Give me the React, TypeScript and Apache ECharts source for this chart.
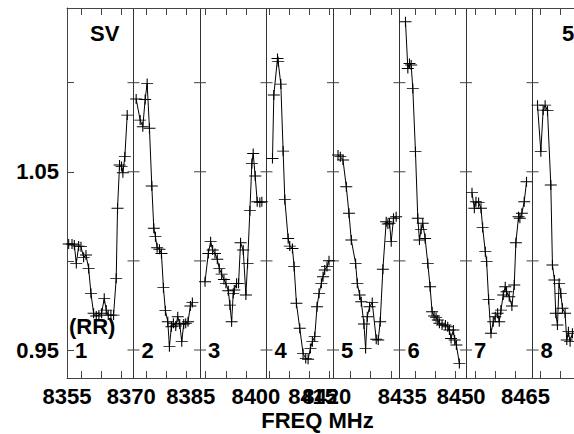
import React, { useEffect, useRef } from "react";
import * as echarts from "echarts";

// Each panel: [frequency offset from panel start (MHz), relative value]
const panelStarts = [8355, 8370, 8385, 8400, 8415, 8430, 8445, 8460];
const panelNames = ["1", "2", "3", "4", "5", "6", "7", "8"];

const panel1: [number, number][] = [
  [0.38, 1.0095], [1.13, 1.0095], [1.65, 1.0089], [2.1, 0.9986], [2.63, 1.0083], [3.15, 1.008],
  [3.75, 1.002], [4.28, 1.0033], [4.88, 0.9958], [5.4, 0.9818], [6.0, 0.9706], [6.6, 0.9691],
  [7.2, 0.9696], [7.8, 0.9706], [8.4, 0.979], [8.85, 0.9724], [9.3, 0.9696], [9.9, 0.9696],
  [10.5, 0.9696], [11.1, 0.9902], [11.4, 1.0295], [11.85, 1.0538], [12.3, 1.0529], [12.6, 1.0495],
  [13.05, 1.0585], [13.58, 1.0818],
];
const panel2: [number, number][] = [
  [0.6, 1.0908], [1.5, 1.079], [2.1, 1.0753], [2.63, 1.0906], [3.08, 1.0996], [3.6, 1.0744],
  [4.13, 1.042], [4.58, 1.0183], [4.95, 1.0136], [5.33, 1.0074], [5.85, 1.0065], [6.3, 1.0042],
  [6.75, 0.985], [7.2, 0.9721], [7.73, 0.9659], [8.1, 0.9519], [8.55, 0.9631], [9.0, 0.965],
  [9.53, 0.9635], [9.98, 0.9687], [10.43, 0.9646], [10.88, 0.9547], [11.33, 0.9646], [11.78, 0.965],
  [12.3, 0.9659], [12.83, 0.9747], [13.28, 0.9766],
];
const panel3: [number, number][] = [
  [1.13, 0.9883], [1.88, 1.0042], [2.4, 1.0108], [2.85, 1.0061], [3.38, 1.0042], [3.9, 1.0009],
  [4.35, 0.9958], [4.88, 0.9926], [5.4, 0.9896], [5.85, 0.9874], [6.38, 0.9833], [6.75, 0.9752],
  [7.13, 0.9659], [7.5, 0.9818], [7.73, 0.9837], [8.25, 0.9874], [8.7, 0.9874], [9.15, 1.0102],
  [9.75, 1.0061], [10.35, 0.9809], [10.73, 0.9986], [11.25, 1.0282], [11.7, 1.0547], [12.0, 1.0603],
  [12.45, 1.0476], [12.9, 1.0332], [13.5, 1.0327], [13.95, 1.0332],
];
const panel4: [number, number][] = [
  [1.35, 1.0575], [1.65, 1.0931], [2.48, 1.1136], [2.63, 1.1118], [3.23, 1.0992], [3.75, 1.0616],
  [4.13, 1.0345], [4.88, 1.0126], [5.25, 1.0083], [5.85, 1.007], [6.23, 0.9968], [6.75, 0.9762],
  [7.5, 0.9622], [8.25, 0.9481], [8.85, 0.9453], [9.38, 0.9448], [9.9, 0.9509], [10.35, 0.9547],
  [10.88, 0.9575], [11.4, 0.9743], [11.85, 0.9818], [12.38, 0.9874], [12.75, 0.9911], [13.13, 0.9949],
  [13.65, 0.9968], [14.1, 1.0001],
];
const panel5: [number, number][] = [
  [1.13, 1.0594], [1.65, 1.0585], [2.25, 1.0566], [3.0, 1.0416], [3.6, 1.0267], [4.13, 1.0117],
  [5.1, 0.9986], [5.48, 0.9874], [6.0, 0.9809], [6.38, 0.9771], [6.98, 0.9646], [7.35, 0.9509],
  [7.73, 0.9687], [8.25, 0.9743], [8.85, 0.9766], [9.75, 0.956], [10.2, 0.9556], [10.65, 0.9659],
  [11.25, 0.9953], [12.0, 1.022], [12.38, 1.0207], [12.75, 1.0211], [13.13, 1.0108], [13.65, 1.0239],
  [14.25, 1.0248],
];
const panel6: [number, number][] = [
  [1.35, 1.1342], [1.88, 1.108], [2.25, 1.1108], [2.63, 1.1099], [3.0, 1.0968], [3.6, 1.0613],
  [4.13, 1.0239], [4.5, 1.0117], [4.88, 1.0177], [5.25, 1.0211], [5.78, 1.0126], [6.38, 0.9986],
  [6.9, 0.9855], [7.35, 0.9715], [7.8, 0.9691], [8.25, 0.9683], [8.63, 0.9668], [9.0, 0.965],
  [9.6, 0.964], [10.35, 0.964], [10.88, 0.9631], [11.25, 0.9612], [11.63, 0.9565], [12.15, 0.9612],
  [12.45, 0.9556], [12.83, 0.9528], [13.5, 0.9425],
];
const panel7: [number, number][] = [
  [1.35, 1.0383], [1.88, 1.0295], [2.25, 1.0332], [2.85, 1.0327], [3.38, 1.0295], [3.75, 1.0188],
  [4.35, 1.0052], [4.65, 0.9996], [5.1, 0.9784], [5.63, 0.9594], [6.15, 0.9659], [6.6, 0.9687],
  [7.13, 0.9706], [7.5, 0.9659], [7.88, 0.9724], [8.4, 0.9809], [8.85, 0.9855], [9.15, 0.9827],
  [9.75, 0.9799], [10.35, 0.9747], [10.88, 0.9865], [11.25, 1.0102], [11.85, 1.0248], [12.15, 1.0239],
  [12.6, 1.0267], [13.13, 1.0332], [13.65, 1.0444],
];
const panel8: [number, number][] = [
  [1.13, 1.0874], [1.88, 1.0613], [2.4, 1.0846], [2.85, 1.0874], [3.38, 1.0843], [4.13, 1.0426],
  [4.5, 0.9977], [4.95, 0.9893], [5.25, 0.9706], [5.63, 0.964], [6.0, 0.9874], [6.38, 0.9818],
  [6.75, 0.9734], [7.35, 0.9706], [7.73, 0.9556], [8.1, 0.9603], [8.48, 0.9547], [9.0, 0.9594],
];

const xTickLabels = ["8355", "8370", "8385", "8400", "8415", "8420", "8435", "8450", "8465"];
const xTickLabelAt = [8355.0, 8369.5, 8382.9, 8397.6, 8410.4, 8413.6, 8430.6, 8443.9, 8458.4];
const xMinorTicks = [
  8358.15, 8362.66, 8367.16, 8372.79, 8377.3, 8381.8, 8386.2, 8390.81, 8395.32, 8400.72,
  8405.23, 8409.73, 8414.24, 8418.97, 8423.47, 8428.2, 8433.61, 8438.11, 8442.61, 8447.12,
  8451.62, 8456.13, 8461.76, 8466.26,
];
const yTicks = [0.95, 1.0, 1.05, 1.1];
const yLabelValues = [0.95, 1.05];

export default function App() {
  const ref = useRef<HTMLDivElement>(null);

  useEffect(() => {
    if (!ref.current) return;
    const chart = echarts.init(ref.current, null, { renderer: "svg" });
    const font = "'Liberation Sans', Arial, Helvetica, sans-serif";
    const axisColor = "#444";
    const xMin = 8355;
    const xMax = 8469.36;
    const yMin = 0.9343;
    const yMax = 1.1419;
    const panels = [panel1, panel2, panel3, panel4, panel5, panel6, panel7, panel8];
    const cross = "path://M0,5L12,5M6,0L6,10";

    const lineSeries = panels.map((pts, i) => ({
      type: "line",
      xAxisIndex: 0,
      yAxisIndex: 0,
      data: pts.map(([o, v]) => [panelStarts[i] + o, v]),
      symbol: cross,
      symbolSize: [12, 10],
      showSymbol: true,
      lineStyle: { color: "#000", width: 1 },
      itemStyle: { color: "#000", borderColor: "#000", borderWidth: 1 },
      emphasis: { disabled: true },
      silent: true,
      z: 3,
    }));

    const dividerTicks: number[][] = [];
    panelStarts.slice(1).forEach((x) => yTicks.forEach((y) => dividerTicks.push([x, y])));

    const boldText = { fontFamily: font, fontWeight: "bold", fontSize: 22, color: "#000" };

    chart.setOption({
      animation: false,
      backgroundColor: "#fff",
      grid: { left: 67, right: 0, top: 8, bottom: 56, outerBoundsMode: "none", containLabel: false },
      xAxis: [
        {
          type: "value",
          position: "bottom",
          min: xMin,
          max: xMax,
          interval: 15,
          axisLine: { show: true, lineStyle: { color: axisColor, width: 1 } },
          axisTick: { show: false },
          axisLabel: { show: false },
          splitLine: { show: true, showMinLine: false, showMaxLine: false, lineStyle: { color: "#333", width: 1 } },
          name: "FREQ MHz",
          nameLocation: "middle",
          nameGap: 31,
          nameMoveOverlap: false,
          nameTextStyle: { ...boldText, padding: [0, 6, 0, 0] },
        },
        {
          type: "value",
          position: "bottom",
          min: xMin,
          max: xMax,
          axisLine: { show: false },
          axisTick: { show: true, inside: true, length: 7, customValues: xMinorTicks, lineStyle: { color: axisColor } },
          axisLabel: {
            show: true,
            customValues: xTickLabelAt,
            margin: 7,
            hideOverlap: false,
            formatter: (v: number) => {
              let best = 0;
              xTickLabelAt.forEach((p, i) => {
                if (Math.abs(p - v) < Math.abs(xTickLabelAt[best] - v)) best = i;
              });
              return xTickLabels[best];
            },
            ...boldText,
          },
          splitLine: { show: false },
        },
        {
          type: "value",
          position: "top",
          min: xMin,
          max: xMax,
          axisLine: { show: true, lineStyle: { color: axisColor, width: 1 } },
          axisTick: { show: true, inside: true, length: 7, customValues: xMinorTicks, lineStyle: { color: axisColor } },
          axisLabel: { show: false },
          splitLine: { show: false },
        },
      ],
      yAxis: {
        type: "value",
        position: "left",
        min: yMin,
        max: yMax,
        axisLine: { show: true, lineStyle: { color: axisColor, width: 1 } },
        axisTick: { show: true, inside: true, length: 7, customValues: yTicks, lineStyle: { color: axisColor } },
        axisLabel: {
          show: true,
          customValues: yLabelValues,
          margin: 8,
          formatter: (v: number) => v.toFixed(2),
          ...boldText,
        },
        splitLine: { show: false },
      },
      series: [
        ...lineSeries,
        {
          type: "custom",
          xAxisIndex: 0,
          yAxisIndex: 0,
          silent: true,
          data: dividerTicks,
          renderItem: (_params: any, api: any) => {
            const p = api.coord([api.value(0), api.value(1)]);
            return {
              type: "line",
              shape: { x1: p[0] - 6, y1: p[1], x2: p[0] + 6, y2: p[1] },
              style: { stroke: axisColor, lineWidth: 1 },
            };
          },
          z: 2,
        },
        {
          type: "scatter",
          xAxisIndex: 0,
          yAxisIndex: 0,
          silent: true,
          symbolSize: 0,
          itemStyle: { opacity: 1, color: "#000" },
          data: panelStarts.map((x) => [x, 0.95]),
          label: {
            show: true,
            position: "right",
            distance: 8,
            opacity: 1,
            formatter: (p: any) => panelNames[p.dataIndex],
            ...boldText,
          },
          z: 4,
        },
      ],
      graphic: [
        { type: "text", left: 90, top: 22, style: { text: "SV", font: `bold 22px ${font}`, fill: "#000" } },
        { type: "text", left: 69, top: 315, style: { text: "(RR)", font: `bold 22px ${font}`, fill: "#000" } },
        { type: "text", left: 562, top: 22, style: { text: "5", font: `bold 22px ${font}`, fill: "#000" } },
      ],
    });

    return () => chart.dispose();
  }, []);

  return (
    <div
      ref={ref}
      style={{ position: "fixed", left: 0, top: 0, width: 574, height: 434, background: "#fff" }}
    />
  );
}
